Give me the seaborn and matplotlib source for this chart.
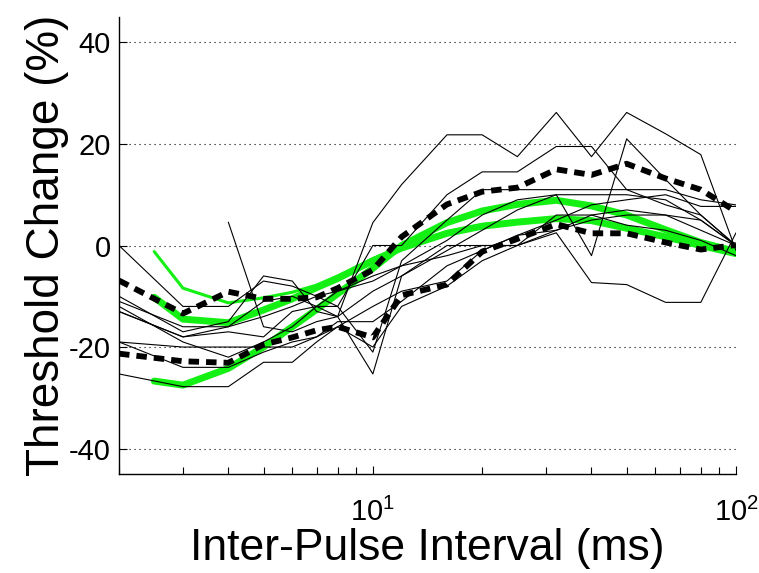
import numpy as np
import pandas as pd
import matplotlib
matplotlib.use("Agg")
import matplotlib.pyplot as plt
import seaborn as sns
from matplotlib.ticker import LogLocator, FixedLocator, NullFormatter

# ---------------- data ----------------
ipi = [2, 3, 4, 5, 6, 7, 8, 10, 12, 16, 20, 25, 32, 40, 50, 64, 80, 100]
ipi_fit = [2.5, 3, 4, 5, 6, 7, 8, 10, 12, 16, 20, 25, 32, 40, 50, 64, 80, 100]

nan = np.nan
subj_01 = [0, -12, -12, -7, -8, -10, -12, -21, -3, 5, 11, 11, 11, 11, 11, 11, 9, 8]
subj_02 = [-10, -17, -15, -6, -7, -13, -14, 4.5, 12, 21.8, 21.8, 17.5, 26.2, 17.5, 26.2, 22, 17.9, -1]
subj_03 = [-13, -18, -17, -18, -13, -12, -14, -9, -6, -1, 3, 7, 10, -2, 21, 13, 6, 0]
subj_04 = [-25.3, -27.8, -27.8, -23, -23, -19, -16, -12, -9, -7, -1, 2, 3, 5, 6, 6, 5, 0]
subj_05 = [-19, -20, -20, -20, -20, -18, -16, -20, -12, -8, -3, 0, 2.5, -7.3, -7.7, -11.2, -11.2, 2.5]
subj_06 = [nan, nan, 4.6, -16, -17, -15, -14, -25.3, -6, 0, 0, 0, 3, 6, 7, 6, 3, 0]
subj_07 = [-11, -16, -16, -11, -10, -12, -12, 0, 0, 10, 14.5, 14.5, 19.5, 19.5, 11, 8, 6, 0]
subj_08 = [-19, -24, -24, -21, -19, -18, -15, -15, -11, -4, -1, 2, 5, 8, 9, 10, 7.7, 7.7]
subj_09 = [-13, -18, -16, -14, -12, -10, -9, -7, -4, 1, 6, 9, 10, 10, 10, 9, 5, 0]
subj_10 = [-12, -19, -22, -19, -16, -12, -9, -6, -4, -2, 0, 0, 6, 6, 4, 3, 1, -2]

mean_upper = [-6.9, -13.4, -9.1, -10.5, -10.5, -10.2, -8.4, -4.8, 1.7, 8.1, 10.6, 11.4, 15.0, 13.9, 16.1, 13.2, 11.0, 6.7]
mean_lower = [-21.3, -22.8, -23.1, -19.5, -18.1, -16.7, -16.0, -18.1, -9.8, -7.7, -1.2, 1.3, 4.2, 2.4, 2.4, 0.6, -0.8, 0.1]

fit_a = [-10.2, -14.5, -15.2, -12.7, -10.5, -8.3, -6.5, -3.0, -0.5, 2.4, 3.8, 4.6, 5.3, 4.9, 3.4, 1.7, 0.0, -1.6]
fit_b = [-26.7, -27.5, -24.2, -20.0, -16.0, -12.6, -9.5, -4.5, 0.0, 4.5, 6.8, 8.1, 8.9, 7.8, 6.0, 3.1, 0.6, -1.2]
fit_thin = [-1.2, -8.4, -11.3, -10.3, -9.2, -7.8, -6.0, -2.6, -0.2, 2.7, 4.1, 4.9, 5.5, 5.1, 3.6, 1.9, 0.2, -1.4]

subjects = [subj_01, subj_02, subj_03, subj_04, subj_05, subj_06, subj_07, subj_08, subj_09, subj_10]

yticks = [-40, -20, 0, 20, 40]
xlabel = "Inter-Pulse Interval (ms)"
ylabel = "Threshold Change (%)"

# ---------------- style ----------------
sns.set_style("white")
plt.rcParams["font.family"] = ["Liberation Sans", "DejaVu Sans"]
plt.rcParams["mathtext.fontset"] = "custom"
plt.rcParams["mathtext.rm"] = "Liberation Sans"
plt.rcParams["mathtext.it"] = "Liberation Sans"
plt.rcParams["axes.unicode_minus"] = False
plt.rcParams["text.color"] = "black"
plt.rcParams["axes.labelcolor"] = "black"
plt.rcParams["xtick.color"] = "black"
plt.rcParams["ytick.color"] = "black"

fig = plt.figure(figsize=(7.59, 5.73), dpi=100)
ax = fig.add_axes([0.1568, 0.1728, 0.8129, 0.7975])

green = "#14f014"

# fitted curves (green)
sns.lineplot(x=ipi_fit, y=fit_a, ax=ax, color=green, lw=5.0, sort=False)
sns.lineplot(x=ipi_fit, y=fit_b, ax=ax, color=green, lw=5.0, sort=False)
sns.lineplot(x=ipi_fit, y=fit_thin, ax=ax, color=green, lw=2.2, sort=False)

# individual subjects (thin black)
df = pd.DataFrame({
    "ipi": np.tile(ipi, len(subjects)),
    "change": np.concatenate([np.asarray(s, float) for s in subjects]),
    "subj": np.repeat(np.arange(len(subjects)), len(ipi)),
})
for sid, g in df.dropna().groupby("subj"):
    sns.lineplot(data=g, x="ipi", y="change", ax=ax, color="black", lw=0.8,
                 estimator=None, sort=False)

# group means (thick dashed black)
for m in (mean_upper, mean_lower):
    sns.lineplot(x=ipi, y=m, ax=ax, color="black", lw=4.2,
                 linestyle=(0, (1.8, 1.2)), sort=False)

ax.set_xscale("log")
ax.set_xlim(2, 100)
ax.set_ylim(-45, 45)

ax.xaxis.set_major_locator(FixedLocator([10, 100]))
ax.xaxis.set_minor_locator(LogLocator(base=10, subs=np.arange(2, 10)))
ax.xaxis.set_minor_formatter(NullFormatter())
ax.set_yticks(yticks)
ax.set_yticklabels([str(v) for v in yticks])

for yv in yticks:
    ax.axhline(yv, color="black", lw=0.8, linestyle=(0, (1, 3.5)), zorder=0)

ax.tick_params(axis="both", which="both", direction="in", color="black",
               bottom=True, left=True, top=False, right=False)
ax.tick_params(axis="both", which="major", length=6, width=0.8, pad=6)
ax.tick_params(axis="y", which="major", labelsize=21)
ax.tick_params(axis="x", which="minor", length=5, width=0.8)
ax.tick_params(axis="x", which="major", labelsize=21, pad=17)

for side in ("top", "right"):
    ax.spines[side].set_visible(False)
for side in ("left", "bottom"):
    ax.spines[side].set_color("black")
    ax.spines[side].set_linewidth(1.0)

ax.set_xlabel(xlabel, fontsize=32, labelpad=1)
ax.set_ylabel(ylabel, fontsize=33, labelpad=0)

fig.savefig("out.png", dpi=100, facecolor="white")
